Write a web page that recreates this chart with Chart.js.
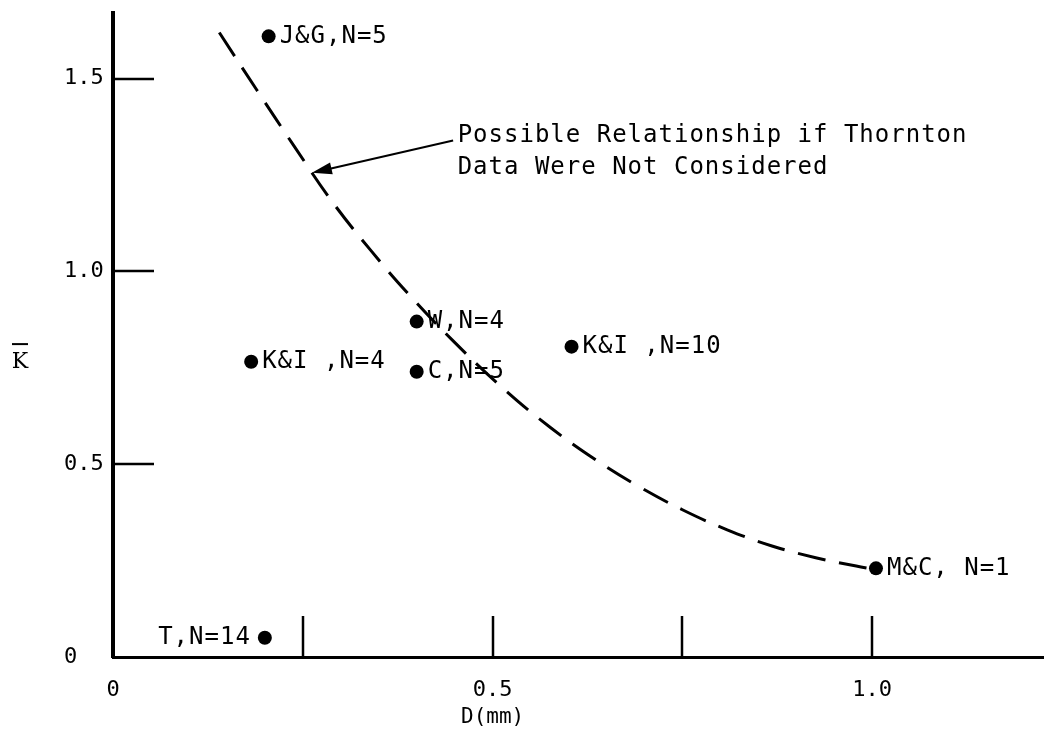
<!DOCTYPE html>
<html>
<head>
<meta charset="utf-8">
<title>K vs D</title>
<script src="https://cdn.jsdelivr.net/npm/chart.js@4.4.1/dist/chart.umd.min.js"></script>
<style>
  html, body { margin: 0; padding: 0; background: #fff; }
</style>
</head>
<body>
<canvas id="chart" width="1050" height="731"></canvas>
<script>
// ── Données ──
const studyLabels = ['J&G,N=5', 'W,N=4', 'C,N=5', 'K&I ,N=4', 'K&I ,N=10', 'M&C, N=1', 'T,N=14'];
const studyD      = [0.205, 0.40, 0.40, 0.182, 0.604, 1.005, 0.20];
const studyK      = [1.61, 0.87, 0.74, 0.766, 0.805, 0.23, 0.05];
const labelOnLeft = ['T,N=14'];

// courbe en tirets (relation possible sans Thornton)
const curveD = [0.140, 0.189, 0.239, 0.288, 0.339, 0.389, 0.448, 0.516, 0.577, 0.636, 0.691, 0.750, 0.809, 0.868, 0.927, 0.979, 1.001];
const curveK = [1.620, 1.472, 1.324, 1.183, 1.056, 0.942, 0.820, 0.693, 0.594, 0.511, 0.444, 0.382, 0.330, 0.288, 0.257, 0.236, 0.228];

const xTickMarks  = [0.25, 0.5, 0.75, 1.0];
const xLabelVals  = [0, 0.5, 1.0];
const xTickLabels = ['0', '0.5', '1.0'];
const yTickMarks  = [0.5, 1.0, 1.5];
const yLabelVals  = [0, 0.5, 1.0, 1.5];
const yTickLabels = ['0', '0.5', '1.0', '1.5'];

const noteLines = ['Possible Relationship if Thornton', 'Data Were Not Considered'];
const xTitle = 'D(mm)';
const yTitle = 'K';

const MONO = '"DejaVu Sans Mono", monospace';

// ── Dessins en surcouche : graduations internes, étiquettes, flèche, titres ──
const overlay = {
  id: 'overlay',
  afterDatasetsDraw(chart) {
    const { ctx, chartArea: ca, scales: { x, y } } = chart;
    ctx.save();
    ctx.strokeStyle = '#000';
    ctx.fillStyle = '#000';

    // graduations vers l'intérieur
    ctx.lineWidth = 2.5;
    xTickMarks.forEach(v => {
      const px = Math.round(x.getPixelForValue(v));
      ctx.beginPath(); ctx.moveTo(px, ca.bottom); ctx.lineTo(px, ca.bottom - 41); ctx.stroke();
    });
    yTickMarks.forEach(v => {
      const py = Math.round(y.getPixelForValue(v));
      ctx.beginPath(); ctx.moveTo(ca.left, py); ctx.lineTo(ca.left + 41, py); ctx.stroke();
    });

    // étiquettes des points
    ctx.font = '24px ' + MONO;
    ctx.letterSpacing = '1px';
    ctx.textBaseline = 'middle';
    const meta = chart.getDatasetMeta(0);
    meta.data.forEach((pt, i) => {
      const left = labelOnLeft.includes(studyLabels[i]);
      ctx.textAlign = left ? 'right' : 'left';
      ctx.fillText(studyLabels[i], pt.x + (left ? -14 : 11), pt.y);
    });

    // note + flèche
    ctx.textAlign = 'left';
    const nx = x.getPixelForValue(0.454);
    ctx.fillText(noteLines[0], nx, y.getPixelForValue(1.353));
    ctx.fillText(noteLines[1], nx, y.getPixelForValue(1.270));

    const tx = x.getPixelForValue(0.448), ty = y.getPixelForValue(1.340);
    const hx = x.getPixelForValue(0.262), hy = y.getPixelForValue(1.256);
    const ang = Math.atan2(hy - ty, hx - tx);
    ctx.lineWidth = 2;
    ctx.beginPath(); ctx.moveTo(tx, ty); ctx.lineTo(hx - 14 * Math.cos(ang), hy - 14 * Math.sin(ang)); ctx.stroke();
    ctx.beginPath();
    ctx.moveTo(hx, hy);
    ctx.lineTo(hx - 20 * Math.cos(ang) + 6 * Math.sin(ang), hy - 20 * Math.sin(ang) - 6 * Math.cos(ang));
    ctx.lineTo(hx - 20 * Math.cos(ang) - 6 * Math.sin(ang), hy - 20 * Math.sin(ang) + 6 * Math.cos(ang));
    ctx.closePath(); ctx.fill();

    // titre de l'axe X, centré sous 0.5
    ctx.letterSpacing = '0px';
    ctx.textAlign = 'center';
    ctx.font = '21px ' + MONO;
    ctx.fillText(xTitle, x.getPixelForValue(0.5), ca.bottom + 61);

    // titre de l'axe Y : K surligné
    ctx.font = '22px "DejaVu Serif", serif';
    const ky = (ca.top + ca.bottom) / 2 + 27;
    ctx.fillText(yTitle, 20, ky);
    ctx.lineWidth = 2;
    ctx.beginPath(); ctx.moveTo(12, ky - 18); ctx.lineTo(28, ky - 18); ctx.stroke();

    ctx.restore();
  }
};

new Chart(document.getElementById('chart').getContext('2d'), {
  type: 'scatter',
  data: {
    datasets: [
      {
        label: 'Études',
        data: studyD.map((d, i) => ({ x: d, y: studyK[i] })),
        pointRadius: 7,
        pointBackgroundColor: '#000',
        pointBorderWidth: 0,
        showLine: false
      },
      {
        label: 'Relation possible',
        data: curveD.map((d, i) => ({ x: d, y: curveK[i] })),
        showLine: true,
        pointRadius: 0,
        borderColor: '#000',
        borderWidth: 3,
        borderDash: [28, 14],
        tension: 0.4
      }
    ]
  },
  options: {
    responsive: false,
    animation: false,
    layout: { padding: { left: 64, top: 13, right: 2, bottom: 0 } },
    plugins: { legend: { display: false }, tooltip: { enabled: false } },
    scales: {
      x: {
        type: 'linear', min: 0, max: 1.225,
        afterFit: s => { s.height = 74; },
        border: { display: true, color: '#000', width: 3 },
        grid: { drawOnChartArea: false, drawTicks: false },
        ticks: {
          stepSize: 0.25, includeBounds: false, autoSkip: false, maxRotation: 0,
          padding: 20, color: '#000', font: { family: MONO, size: 22 },
          callback: v => { const i = xLabelVals.indexOf(v); return i >= 0 ? xTickLabels[i] : ''; }
        }
      },
      y: {
        type: 'linear', min: 0, max: 1.67,
        afterFit: s => { s.width = 49; },
        border: { display: true, color: '#000', width: 4 },
        grid: { drawOnChartArea: false, drawTicks: false },
        ticks: {
          stepSize: 0.5, includeBounds: false, autoSkip: false, crossAlign: 'far',
          padding: 0, color: '#000', font: { family: MONO, size: 22 },
          callback: v => { const i = yLabelVals.indexOf(v); return i >= 0 ? yTickLabels[i] : ''; }
        }
      }
    }
  },
  plugins: [overlay]
});
</script>
</body>
</html>
